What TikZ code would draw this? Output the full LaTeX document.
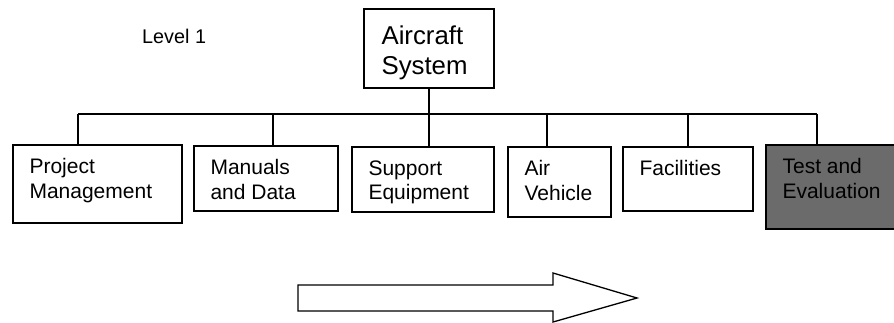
\documentclass[tikz,border=0pt]{standalone}
\usepackage{fontspec}
\setmainfont{Liberation Sans}
\usetikzlibrary{fit}

\begin{document}
\begin{tikzpicture}[
  x=1pt,y=-1pt,
  box/.style={draw=black,line width=1.3pt,inner sep=0pt},
  grit/.style={box,fill=black!58},
  txt/.style={font=\fontsize{21}{24.5}\selectfont,align=left,inner sep=0pt,
              anchor=north west},
  wire/.style={draw=black,line width=1.2pt},
  hollow/.style={draw=black,line width=1.3pt,line join=miter,fill=white},
]
\useasboundingbox (0,0) rectangle (894,323);
\clip (0,0) rectangle (894,323);

%------------------------------------------------------------- level tag ---
\node[txt,anchor=west,font=\fontsize{19.8}{23}\selectfont] (lvl) at (142,36) {Level 1};

%------------------------------------------------------------------- top ---
\node[box,fit={(364,9) (494,88)}] (sys) {};
\node[txt,font=\fontsize{25.8}{30}\selectfont] (sys-t)
  at ([shift={(18,17)}]sys.north west) {Aircraft\\System};

%--------------------------------------------------------------- level 1 ---
\foreach \nm/\xa/\ya/\xb/\yb/\dx/\st/\txt in {
    pm/13/145/182/223/78/box/{Project\\Management},
    man/194/146/338/211/273/box/{Manuals\\and Data},
    sup/352/147/494/212/429/box/{Support\\Equipment},
    veh/508/147/611/217/547/box/{Air\\Vehicle},
    fac/623/147/753/211/688/box/{Facilities},
    te/766/145/900/229/817/grit/{Test and\\Evaluation}}{
  \node[\st,fit={(\xa,\ya) (\xb,\yb)}] (\nm) {};
  \node[txt] (\nm-t) at ([shift={(17,14)}]\nm.north west) {\txt};
  \coordinate (\nm-d) at (\dx,114);
  \draw[wire] (\nm-d) -- (\nm-d |- \nm.north);
}

%------------------------------------------------------------------- bus ---
\draw[wire] (pm-d) -- (te-d);
\draw[wire] (sys.south) -- (sup-d);

%----------------------------------------------------------------- arrow ---
\draw[hollow] (298,285) -- (553,285) -- (553,273) -- (637,298) -- (553,322)
  -- (553,311) -- (298,311) -- cycle;

\end{tikzpicture}
\end{document}
